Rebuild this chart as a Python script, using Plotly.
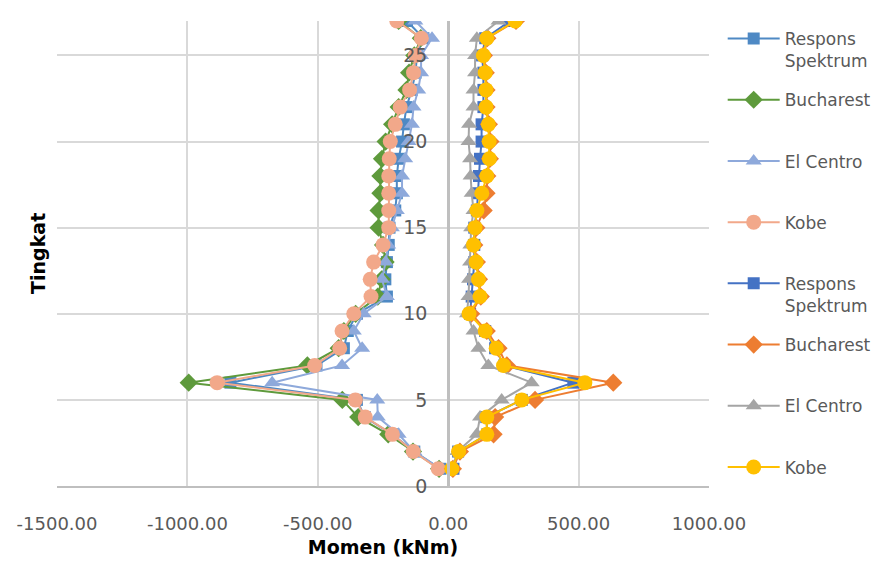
import plotly.graph_objects as go

# Storey levels
tingkat = list(range(1, 28))

# Negative-direction moments (kNm)
rs_neg = [-30, -130, -215, -320, -350, -835, -505, -400, -385, -350, -235, -241, -235, -228,
          -225, -203, -197, -197, -190, -177, -170, -160, -140, -125, -120, -95, -158]
buch_neg = [-35, -135, -230, -345, -406, -995, -540, -420, -400, -355, -270, -255, -240, -250,
            -267, -267, -260, -260, -254, -240, -215, -190, -160, -150, -130, -105, -190]
elc_neg = [-30, -130, -190, -270, -272, -675, -407, -330, -362, -324, -235, -254, -240, -230,
           -216, -197, -177, -177, -165, -152, -139, -133, -115, -104, -104, -62, -126]
kobe_neg = [-38, -134, -214, -318, -356, -886, -512, -416, -407, -362, -296, -299, -286, -250,
            -228, -228, -228, -228, -226, -222, -203, -184, -148, -133, -126, -103, -197]

# Positive-direction moments (kNm)
rs_pos = [20, 38, 150, 146, 282, 480, 215, 180, 142, 84, 90, 95, 100, 100,
          100, 110, 115, 118, 122, 128, 128, 135, 135, 135, 130, 142, 237]
buch_pos = [18, 45, 174, 180, 333, 633, 225, 193, 148, 88, 125, 118, 110, 100,
            108, 136, 147, 150, 160, 162, 156, 147, 147, 144, 137, 150, 260]
elc_pos = [15, 35, 110, 122, 205, 320, 154, 116, 97, 72, 78, 80, 84, 85,
           88, 97, 90, 86, 84, 78, 80, 97, 97, 103, 103, 110, 193]
kobe_pos = [14, 40, 148, 148, 282, 524, 212, 184, 142, 80, 122, 116, 107, 97,
            103, 110, 129, 148, 158, 157, 154, 145, 145, 142, 135, 148, 257]

x_ticks = [-1500, -1000, -500, 0, 500, 1000]
x_tick_text = [f"{v:.2f}" for v in x_ticks]
y_ticks = [0, 5, 10, 15, 20, 25]

series = [
    ("Respons<br>Spektrum", rs_neg, "#4E89C4", "square", 12),
    ("Bucharest<br> ", buch_neg, "#5E9A3C", "diamond", 14),
    ("El Centro<br> ", elc_neg, "#8EA9DB", "triangle-up", 14),
    ("Kobe<br> ", kobe_neg, "#F2A88A", "circle", 15),
    ("Respons<br>Spektrum", rs_pos, "#4472C4", "square", 12),
    ("Bucharest<br> ", buch_pos, "#ED7D31", "diamond", 14),
    ("El Centro<br> ", elc_pos, "#A5A5A5", "triangle-up", 14),
    ("Kobe<br> ", kobe_pos, "#FFC000", "circle", 15),
]

FONT = "DejaVu Sans"
fig = go.Figure()
for i, (name, xs, color, symbol, size) in enumerate(series):
    fig.add_trace(go.Scatter(
        x=xs, y=tingkat, name=name, mode="lines+markers",
        legendgroup=str(i),
        line=dict(color=color, width=2),
        marker=dict(symbol=symbol, size=size, color=color),
    ))

fig.update_layout(
    width=888, height=567,
    margin=dict(l=57, r=178, t=21, b=77),
    paper_bgcolor="white", plot_bgcolor="white",
    font=dict(family=FONT, size=17, color="#595959"),
    showlegend=True,
    legend=dict(x=1.021, y=1.0, xanchor="left", yanchor="top",
                traceorder="grouped", tracegroupgap=14, valign="top",
                itemwidth=52, maxheight=560,
                font=dict(family=FONT, size=17, color="#595959")),
    xaxis=dict(range=[-1500, 1000], tickvals=x_ticks, ticktext=x_tick_text,
               showgrid=True, gridcolor="#D9D9D9", gridwidth=2,
               zeroline=False, showline=True, linecolor="#BFBFBF", linewidth=2,
               ticks="", ticklabelstandoff=20, tickfont=dict(size=18),
               title=dict(text="<b>Momen (kNm)</b>", standoff=8,
                          font=dict(family=FONT, size=19, color="#000000"))),
    yaxis=dict(range=[0, 27], tickvals=y_ticks, anchor="free", position=0.6,
               showgrid=True, gridcolor="#D9D9D9", gridwidth=2,
               zeroline=False, showline=True, linecolor="#BFBFBF", linewidth=3,
               ticks="", ticklabelstandoff=16, tickfont=dict(size=19)),
    annotations=[dict(text="<b>Tingkat</b>", xref="paper", yref="paper",
                      x=-0.05, y=0.50, textangle=-90, showarrow=False,
                      font=dict(family=FONT, size=19, color="#000000"))],
)

fig.write_html("out.html")
